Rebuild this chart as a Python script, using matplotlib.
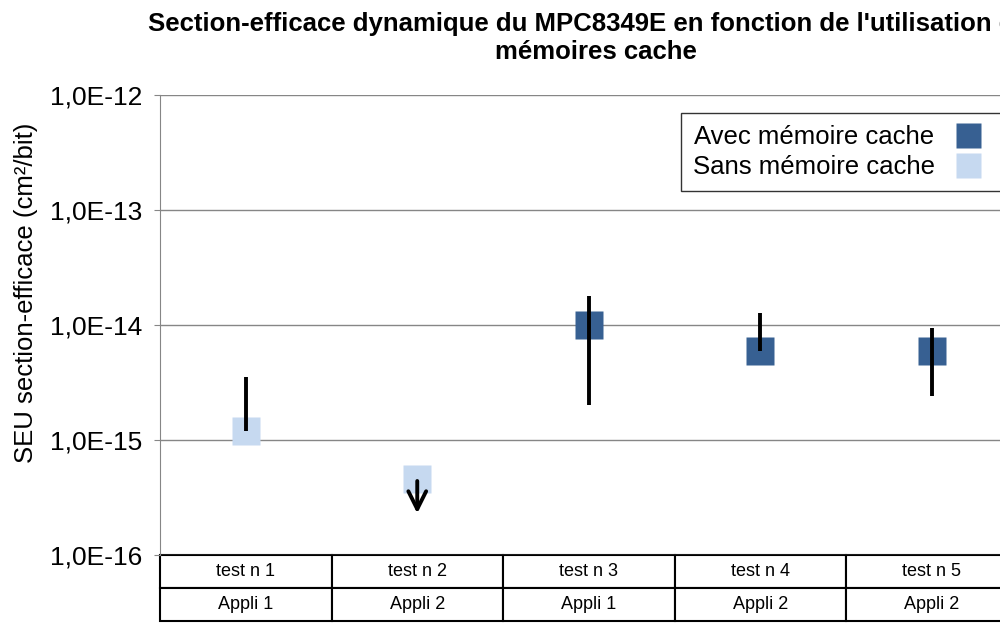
import numpy as np
import matplotlib.pyplot as plt

plt.rcParams['font.family'] = ['Liberation Sans', 'DejaVu Sans']

# données
tests = ['test n 1', 'test n 2', 'test n 3', 'test n 4', 'test n 5']
applis = ['Appli 1', 'Appli 2', 'Appli 1', 'Appli 2', 'Appli 2']
avec_cache = [np.nan, np.nan, 1.0e-14, 6.0e-15, 6.0e-15]
sans_cache = [1.2e-15, 4.6e-16, np.nan, np.nan, np.nan]
err_haut = [3.5e-15, np.nan, 1.8e-14, 1.28e-14, 9.5e-15]
err_bas = [1.2e-15, np.nan, 2.0e-15, 6.0e-15, 2.4e-15]
# test 2 : limite superieure (fleche vers le bas)
limite_idx = 1
limite_debut = 4.4e-16
limite_fin = 2.3e-16
yticks = [1e-16, 1e-15, 1e-14, 1e-13, 1e-12]
ylabels = ['1,0E-16', '1,0E-15', '1,0E-14', '1,0E-13', '1,0E-12']

fonce = '#376092'
clair = '#C6D9F0'

fig = plt.figure(figsize=(10, 6.23), dpi=100)
ax = fig.add_axes([0.16, 68/623, 0.8575, 460/623])
x = np.arange(len(tests)) + 0.5

ax.set_yscale('log')
ax.set_ylim(1e-16, 1e-12)
ax.set_xlim(0, len(tests))
ax.set_yticks(yticks)
ax.set_yticklabels(ylabels, fontsize=19)
ax.minorticks_off()
ax.set_xticks([])
ax.tick_params(axis='y', length=4, color='#868686', pad=9)
ax.yaxis.grid(True, color='#868686', lw=1)
ax.set_axisbelow(True)
for s in ['top', 'right', 'bottom']:
    ax.spines[s].set_visible(False)
ax.spines['left'].set_color('#868686')

ax.plot(x, avec_cache, 's', ms=20, color=fonce, mec='none', label='Avec mémoire cache', zorder=3)
ax.plot(x, sans_cache, 's', ms=20, color=clair, mec='none', label='Sans mémoire cache', zorder=3)
ax.vlines(x, err_bas, err_haut, color='black', lw=2.8, zorder=4)
ax.annotate('', xy=(x[limite_idx], limite_fin), xytext=(x[limite_idx], limite_debut),
            arrowprops=dict(arrowstyle='->', lw=2.8, color='black', mutation_scale=32,
                            shrinkA=0, shrinkB=0), zorder=4)

leg = ax.legend(loc='upper left', bbox_to_anchor=(681/1000, 1-113/623), bbox_transform=fig.transFigure,
                markerfirst=False, fontsize=18.5, frameon=True, fancybox=False, borderaxespad=0,
                handletextpad=0.3, labelspacing=0.25, borderpad=0.45, markerscale=0.9)
leg.get_frame().set_edgecolor('black')
leg.get_frame().set_linewidth(1)

tab = ax.table(cellText=[tests, applis], cellLoc='center', bbox=[0, -66/460, 1, 66/460])
tab.auto_set_font_size(False)
tab.set_fontsize(13)
for c in tab.get_celld().values():
    c.set_edgecolor('black')
    c.set_linewidth(1.5)

# titre coupé à droite comme dans l'original
fig.text(596/1000, 1-12/623,
         "Section-efficace dynamique du MPC8349E en fonction de l'utilisation des\nmémoires cache",
         ha='center', va='top', fontsize=18.5, fontweight='bold', linespacing=1.2)
fig.text(26/1000, 1-293/623, 'SEU section-efficace (cm²/bit)', rotation=90,
         ha='center', va='center', fontsize=18.5)

fig.savefig('out.png')
